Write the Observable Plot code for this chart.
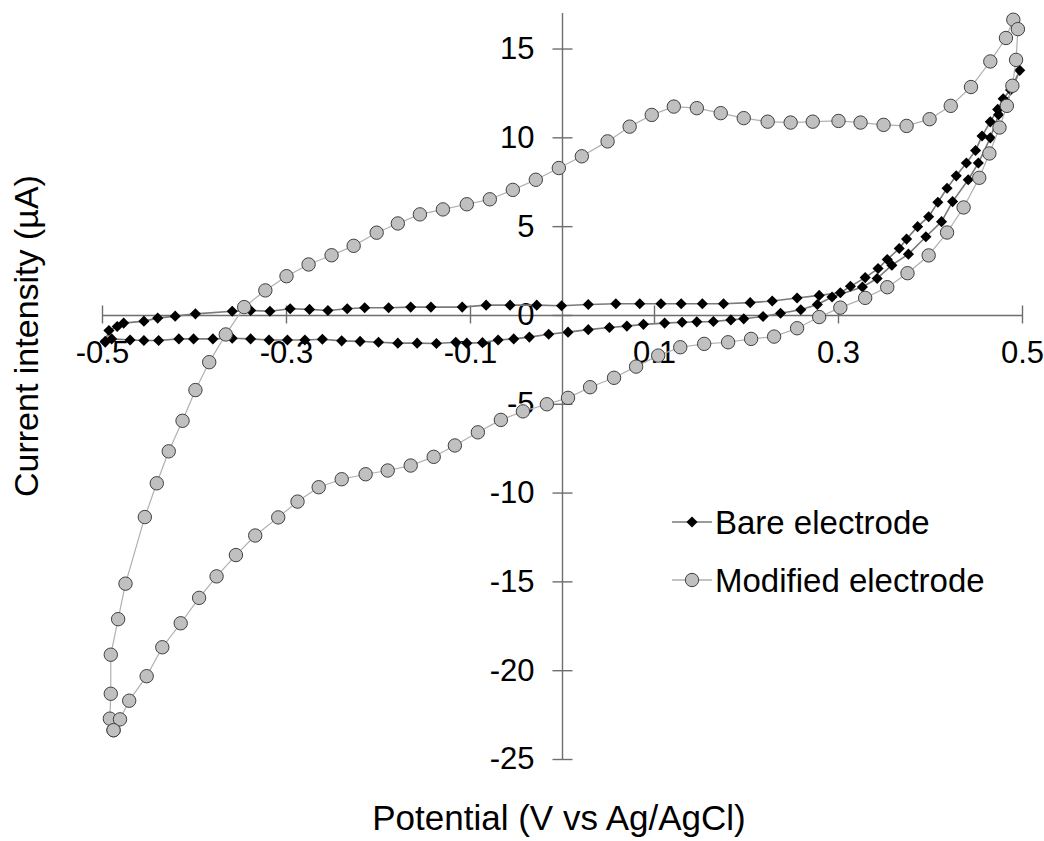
<!DOCTYPE html>
<html><head><meta charset="utf-8">
<script src="https://cdn.jsdelivr.net/npm/d3@7"></script>
<script src="https://cdn.jsdelivr.net/npm/@observablehq/plot@0.6"></script>
<style>
body{margin:0;background:#fff;}
#wrap{position:relative;width:1044px;height:841px;}
</style></head><body><div id="wrap"></div>
<script>
// ---- data ----
const seriesNames = ["Bare electrode", "Modified electrode"];
const xTitle = "Potential (V vs Ag/AgCl)";
const yTitle = "Current intensity (µA)";
const xTicks = [-0.5, -0.3, -0.1, 0.1, 0.3, 0.5];
const yTicks = [15, 10, 5, 0, -5, -10, -15, -20, -25];

const bareV = [-0.497,-0.493,-0.484,-0.477,-0.455,-0.440,-0.421,-0.399,-0.359,-0.339,-0.318,-0.296,-0.275,-0.255,-0.234,-0.215,-0.189,-0.165,-0.143,-0.109,-0.083,-0.057,-0.028,-0.001,0.028,0.058,0.084,0.107,0.129,0.152,0.175,0.204,0.228,0.255,0.279,0.302,0.313,0.329,0.343,0.353,0.366,0.374,0.386,0.398,0.408,0.418,0.428,0.439,0.449,0.456,0.465,0.473,0.479,0.487,0.497,
  0.490,0.483,0.474,0.465,0.452,0.441,0.424,0.412,0.395,0.376,0.358,0.342,0.326,0.293,0.277,0.259,0.237,0.218,0.197,0.183,0.164,0.146,0.130,0.111,0.088,0.070,0.051,0.028,0.006,-0.015,-0.036,-0.053,-0.070,-0.087,-0.104,-0.116,-0.137,-0.158,-0.179,-0.200,-0.220,-0.240,-0.261,-0.280,-0.299,-0.319,-0.339,-0.359,-0.380,-0.401,-0.417,-0.439,-0.455,-0.470,-0.490,-0.497];
const bareI = [-1.45,-0.85,-0.62,-0.43,-0.32,-0.15,-0.04,0.09,0.24,0.28,0.24,0.38,0.34,0.28,0.38,0.43,0.43,0.47,0.47,0.47,0.58,0.58,0.58,0.55,0.62,0.66,0.66,0.66,0.66,0.66,0.66,0.72,0.81,0.98,1.13,1.28,1.64,2.13,2.64,3.15,3.77,4.30,5.00,5.56,6.37,7.16,7.86,8.58,9.29,10.1,10.9,11.6,12.2,12.7,13.8,
  12.9,12.0,11.3,10.0,8.58,7.64,6.41,5.28,4.43,3.45,2.83,2.08,1.60,1.04,0.62,0.32,0.12,-0.06,-0.19,-0.25,-0.34,-0.36,-0.38,-0.43,-0.50,-0.60,-0.68,-0.80,-0.94,-1.06,-1.22,-1.32,-1.38,-1.53,-1.56,-1.51,-1.58,-1.56,-1.56,-1.51,-1.46,-1.43,-1.34,-1.38,-1.38,-1.38,-1.32,-1.28,-1.32,-1.32,-1.32,-1.41,-1.41,-1.38,-1.32,-1.50];

const modV = [-0.488,-0.492,-0.491,-0.491,-0.483,-0.475,-0.454,-0.441,-0.428,-0.413,-0.399,-0.384,-0.366,-0.346,-0.323,-0.300,-0.276,-0.251,-0.227,-0.202,-0.179,-0.155,-0.130,-0.104,-0.079,-0.054,-0.029,-0.004,0.021,0.049,0.073,0.097,0.121,0.146,0.172,0.197,0.223,0.248,0.272,0.300,0.324,0.349,0.374,0.399,0.422,0.444,0.465,0.482,0.490,0.495,0.493,0.489,0.483,0.475,0.464,0.453,0.436,0.418,0.398,0.375,0.353,0.329,0.302,0.279,0.255,0.230,0.205,0.180,0.154,0.128,0.104,0.080,0.056,0.030,0.006,-0.017,-0.043,-0.067,-0.092,-0.117,-0.140,-0.165,-0.190,-0.214,-0.240,-0.265,-0.288,-0.309,-0.334,-0.355,-0.376,-0.395,-0.415,-0.435,-0.452,-0.471,-0.481,-0.488];
const modI = [-23.35,-22.7,-21.3,-19.1,-17.1,-15.1,-11.35,-9.45,-7.65,-5.93,-4.2,-2.63,-1.07,0.47,1.41,2.21,2.87,3.39,3.92,4.66,5.18,5.69,5.97,6.26,6.54,7.07,7.64,8.30,8.96,9.80,10.63,11.29,11.76,11.67,11.39,11.11,10.91,10.86,10.91,10.95,10.86,10.73,10.67,11.05,11.80,12.86,14.30,15.62,16.65,16.12,14.39,12.93,11.80,10.58,9.12,7.75,6.08,4.67,3.38,2.38,1.59,0.99,0.44,-0.09,-0.72,-1.19,-1.32,-1.51,-1.60,-1.79,-2.26,-2.88,-3.51,-4.04,-4.64,-5.00,-5.40,-5.88,-6.58,-7.32,-7.96,-8.45,-8.73,-8.94,-9.22,-9.67,-10.48,-11.37,-12.39,-13.49,-14.69,-15.90,-17.33,-18.68,-20.31,-21.69,-22.74,-23.35];

// ---- build tables ----
const bare = bareV.map((v, k) => ({v, i: bareI[k]}));
const mod = modV.map((v, k) => ({v, i: modI[k]}));

const axisColor = "#6e6e6e";
const font = "'Liberation Sans', Arial, sans-serif";
const vTick = {draw(ctx){ ctx.moveTo(0, -10); ctx.lineTo(0, 8); }};
const hTick = {draw(ctx){ ctx.moveTo(-10, 0); ctx.lineTo(10, 0); }};

const chart = Plot.plot({
  width: 1044, height: 841,
  marginLeft: 102, marginRight: 22, marginTop: 13, marginBottom: 82,
  x: {domain: [-0.5, 0.5], axis: null},
  y: {domain: [-25, 17], axis: null},
  style: {fontFamily: font, background: "white", overflow: "visible"},
  marks: [
    Plot.ruleY([0], {stroke: axisColor, strokeWidth: 1.4}),
    Plot.ruleX([0], {stroke: axisColor, strokeWidth: 1.4}),
    Plot.dot(xTicks, {x: d => d, y: () => 0, symbol: vTick, stroke: axisColor, strokeWidth: 1.4, fill: "none"}),
    Plot.dot(yTicks, {x: () => 0, y: d => d, symbol: hTick, stroke: axisColor, strokeWidth: 1.4, fill: "none"}),
    Plot.text(xTicks, {x: d => d, y: () => 0, text: d => String(d), dy: 38, fontSize: 31, fill: "black", textAnchor: "middle"}),
    Plot.text(yTicks, {x: () => 0, y: d => d, text: d => String(d), dx: -28, fontSize: 31, fill: "black", textAnchor: "end"}),
    Plot.line(bare, {x: "v", y: "i", stroke: "#7a7a7a", strokeWidth: 1.6}),
    Plot.dot(bare, {x: "v", y: "i", symbol: "diamond2", r: 5, fill: "black", stroke: "none"}),
    Plot.line(mod, {x: "v", y: "i", stroke: "#b0b0b0", strokeWidth: 1.2}),
    Plot.dot(mod, {x: "v", y: "i", r: 6.7, fill: "#c0c0c0", stroke: "#404040", strokeWidth: 1})
  ]
});
document.getElementById("wrap").appendChild(chart);

// ---- titles and legend ----
const svg = d3.select(chart);
svg.append("text").attr("x", 559).attr("y", 830).attr("text-anchor", "middle")
  .attr("font-family", font).attr("font-size", 35).attr("fill", "black").text(xTitle);
svg.append("text").attr("transform", "translate(38,497) rotate(-90)").attr("text-anchor", "start")
  .attr("font-family", font).attr("font-size", 34).attr("fill", "black").text(yTitle);

const lg = svg.append("g");
const rows = [
  {name: seriesNames[0], y: 522, line: "#7a7a7a", sym: d3.symbol(d3.symbolDiamond2, 5*5*Math.PI)(), fill: "black", stroke: "none"},
  {name: seriesNames[1], y: 580, line: "#b0b0b0", sym: d3.symbol(d3.symbolCircle, 6.7*6.7*Math.PI)(), fill: "#c0c0c0", stroke: "#404040"}
];
rows.forEach(r => {
  lg.append("line").attr("x1", 672).attr("x2", 712).attr("y1", r.y).attr("y2", r.y).attr("stroke", r.line).attr("stroke-width", 1.5);
  lg.append("path").attr("d", r.sym).attr("transform", `translate(692,${r.y})`).attr("fill", r.fill).attr("stroke", r.stroke);
  lg.append("text").attr("x", 715).attr("y", r.y).attr("dy", "0.35em").attr("text-anchor", "start")
    .attr("font-family", font).attr("font-size", 33).attr("fill", "black").text(r.name);
});
</script></body></html>
